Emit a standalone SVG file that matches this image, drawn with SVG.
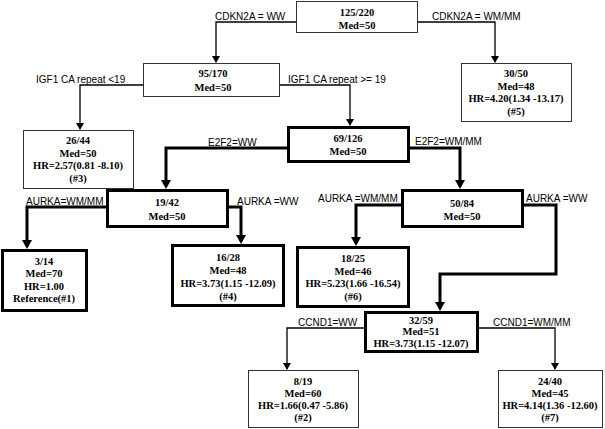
<svg xmlns="http://www.w3.org/2000/svg" width="605" height="429" viewBox="0 0 605 429">
<style>
.thin{fill:#fff;stroke:#333;stroke-width:1}
.thick{fill:#fff;stroke:#000;stroke-width:3}
.t{font-family:"Liberation Serif","Times New Roman",serif;font-weight:bold;font-size:10.5px;text-anchor:middle;fill:#000}
.lbl{font-family:"Liberation Sans",Arial,sans-serif;font-size:10px;fill:#000}
.c1{fill:none;stroke:#000;stroke-width:1.3}
.c3{fill:none;stroke:#000;stroke-width:3}
</style>
<rect width="605" height="429" fill="#fff"/>
<g id="connectors">
<path class="c1" d="M296,22 H216 V62"/>
<polygon points="212,56 220,56 216,63" fill="#000"/>
<path class="c1" d="M417,22 H495 V62"/>
<polygon points="491,56 499,56 495,63" fill="#000"/>
<path class="c1" d="M143,85 H80 V129"/>
<polygon points="76,123 84,123 80,130" fill="#000"/>
<path class="c1" d="M280,85 H350 V125"/>
<polygon points="346,119 354,119 350,126" fill="#000"/>
<path class="c3" d="M287,148 H166 V186"/>
<polygon points="161,180 171,180 166,189" fill="#000"/>
<path class="c3" d="M409,148 H460 V186"/>
<polygon points="455,180 465,180 460,189" fill="#000"/>
<path class="c3" d="M106,207 H27 V246"/>
<polygon points="22,240 32,240 27,249" fill="#000"/>
<path class="c3" d="M228,207 H241 V241"/>
<polygon points="236,235 246,235 241,244" fill="#000"/>
<path class="c3" d="M402,205 H356 V243"/>
<polygon points="351,237 361,237 356,246" fill="#000"/>
<path class="c3" d="M523,205 H556 V274 H440 V308"/>
<polygon points="435,302 445,302 440,311" fill="#000"/>
<path class="c1" d="M365,328 H287 V369"/>
<polygon points="283,363 291,363 287,370" fill="#000"/>
<path class="c1" d="M478,328 H555 V369"/>
<polygon points="551,363 559,363 555,370" fill="#000"/>
<text class="lbl" x="215" y="20">CDKN2A = WW</text>
<text class="lbl" x="432" y="20">CDKN2A = WM/MM</text>
<text class="lbl" x="36" y="83">IGF1 CA repeat &lt;19</text>
<text class="lbl" x="288" y="83">IGF1 CA repeat &gt;= 19</text>
<text class="lbl" x="208" y="146">E2F2=WW</text>
<text class="lbl" x="415" y="145">E2F2=WM/MM</text>
<text class="lbl" x="26" y="205">AURKA=WM/MM</text>
<text class="lbl" x="237" y="205">AURKA =WW</text>
<text class="lbl" x="318" y="202">AURKA =WM/MM</text>
<text class="lbl" x="526" y="202">AURKA =WW</text>
<text class="lbl" x="298" y="326">CCND1=WW</text>
<text class="lbl" x="493" y="326">CCND1=WM/MM</text>
</g>
<g id="n1">
<rect class="thin" x="296.5" y="1.5" width="121" height="31"/>
<text class="t" x="357" y="16">125/220</text>
<text class="t" x="357" y="29">Med=50</text>
</g>
<g id="n2">
<rect class="thin" x="143.5" y="63.5" width="136" height="33"/>
<text class="t" x="213" y="77">95/170</text>
<text class="t" x="213" y="91">Med=50</text>
</g>
<g id="n3">
<rect class="thin" x="461.5" y="63.5" width="110" height="58"/>
<text class="t" x="516" y="77">30/50</text>
<text class="t" x="516" y="89.5">Med=48</text>
<text class="t" x="516" y="102">HR=4.20(1.34 -13.17)</text>
<text class="t" x="516" y="114.5">(#5)</text>
</g>
<g id="n4">
<rect class="thin" x="23.5" y="130.5" width="110" height="58"/>
<text class="t" x="78" y="144">26/44</text>
<text class="t" x="78" y="156.5">Med=50</text>
<text class="t" x="78" y="169">HR=2.57(0.81 -8.10)</text>
<text class="t" x="78" y="181.5">(#3)</text>
</g>
<g id="n5">
<rect class="thick" x="288.5" y="127.5" width="120" height="34"/>
<text class="t" x="348" y="142">69/126</text>
<text class="t" x="348" y="155">Med=50</text>
</g>
<g id="n6">
<rect class="thick" x="107.5" y="190.5" width="120" height="36"/>
<text class="t" x="167" y="206">19/42</text>
<text class="t" x="167" y="219.5">Med=50</text>
</g>
<g id="n7">
<rect class="thick" x="402.5" y="190.5" width="120" height="36"/>
<text class="t" x="462" y="207">50/84</text>
<text class="t" x="462" y="220">Med=50</text>
</g>
<g id="n8">
<rect class="thick" x="2.5" y="250.5" width="84" height="60"/>
<text class="t" x="44" y="264.5">3/14</text>
<text class="t" x="44" y="277">Med=70</text>
<text class="t" x="44" y="289.5">HR=1.00</text>
<text class="t" x="44" y="302">Reference(#1)</text>
</g>
<g id="n9">
<rect class="thick" x="172.5" y="245.5" width="111" height="60"/>
<text class="t" x="228" y="261">16/28</text>
<text class="t" x="228" y="274">Med=48</text>
<text class="t" x="228" y="286.5">HR=3.73(1.15 -12.09)</text>
<text class="t" x="228" y="299.5">(#4)</text>
</g>
<g id="n10">
<rect class="thick" x="297.5" y="247.5" width="111" height="59"/>
<text class="t" x="353" y="262">18/25</text>
<text class="t" x="353" y="274.5">Med=46</text>
<text class="t" x="353" y="287">HR=5.23(1.66 -16.54)</text>
<text class="t" x="353" y="299.5">(#6)</text>
</g>
<g id="n11">
<rect class="thick" x="365.5" y="312.5" width="112" height="39"/>
<text class="t" x="421" y="323.5">32/59</text>
<text class="t" x="421" y="335">Med=51</text>
<text class="t" x="421" y="346.5">HR=3.73(1.15 -12.07)</text>
</g>
<g id="n12">
<rect class="thin" x="248.5" y="370.5" width="110" height="57"/>
<text class="t" x="303" y="384.5">8/19</text>
<text class="t" x="303" y="396.5">Med=60</text>
<text class="t" x="303" y="408.5">HR=1.66(0.47 -5.86)</text>
<text class="t" x="303" y="420.5">(#2)</text>
</g>
<g id="n13">
<rect class="thin" x="498.5" y="370.5" width="104" height="57"/>
<text class="t" x="550" y="384.5">24/40</text>
<text class="t" x="550" y="396.5">Med=45</text>
<text class="t" x="550" y="408.5">HR=4.14(1.36 -12.60)</text>
<text class="t" x="550" y="420.5">(#7)</text>
</g>
</svg>
